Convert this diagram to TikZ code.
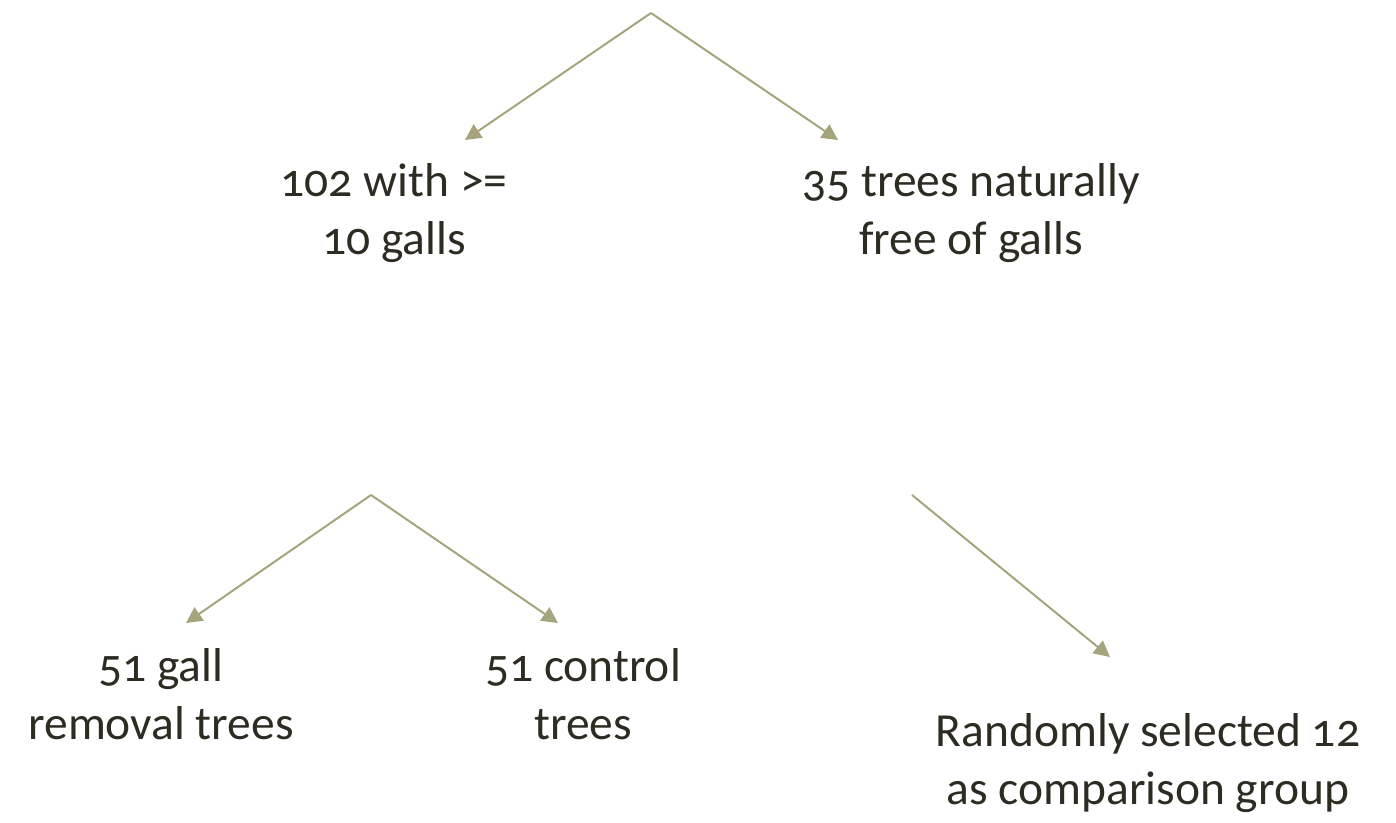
\documentclass[tikz,border=0pt]{standalone}
\usepackage{fontspec}
\setmainfont{Carlito}[Numbers=OldStyle]
\usetikzlibrary{arrows.meta}
\definecolor{linec}{HTML}{A6A47C}
\definecolor{textc}{HTML}{2E2B23}
\begin{document}
\begin{tikzpicture}[x=1pt,y=-1pt,
  lbl/.style={text=textc,font=\fontsize{47.5}{58}\selectfont,align=center,inner sep=0pt},
  arr/.style={draw=linec,line width=2pt,-{Triangle[length=16pt,width=16pt]}}]
\useasboundingbox (0,0) rectangle (1396,822);
\coordinate (top) at (651,13);
\coordinate (ta) at (465,140);
\coordinate (tb) at (838,140);
\coordinate (mid) at (371,495);
\coordinate (ma) at (186,623);
\coordinate (mb) at (558,623);
\coordinate (rs) at (912,495);
\coordinate (re) at (1110,657);
\node[lbl] (n102) at (394,213) {102 with >=\\10 galls};
\node[lbl] (n35) at (971,213) {35 trees naturally\\free of galls};
\node[lbl] (n51g) at (161,694) {51 gall\\removal trees};
\node[lbl] (n51c) at (583,694) {51 control\\trees};
\node[lbl] (nrand) at (1148,763) {Randomly selected 12\\as comparison group};
\draw[arr] (top) -- (ta);
\draw[arr] (top) -- (tb);
\draw[arr] (mid) -- (ma);
\draw[arr] (mid) -- (mb);
\draw[arr] (rs) -- (re);
\end{tikzpicture}
\end{document}
